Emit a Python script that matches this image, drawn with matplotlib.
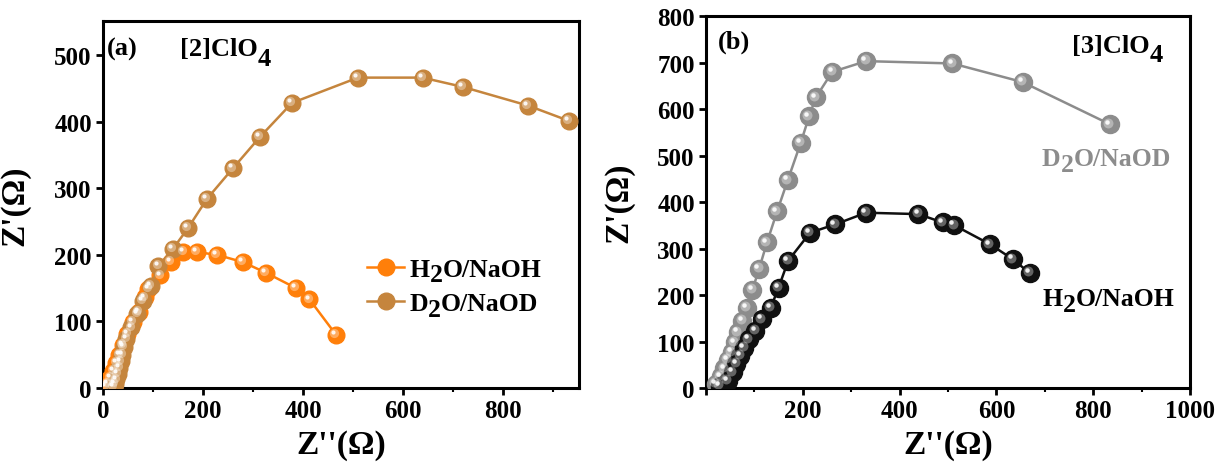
import matplotlib
matplotlib.use("Agg")
import matplotlib.pyplot as plt
from matplotlib.transforms import ScaledTranslation

plt.rcParams['font.family'] = ['Liberation Serif', 'DejaVu Serif']
plt.rcParams['font.weight'] = 'bold'

# panel (a) [2]ClO4
a_h2o_x = [6, 10, 15, 21, 27, 33, 40, 49, 60, 72, 84, 91, 115, 136, 161, 188, 228, 280, 326, 386, 413, 466]
a_h2o_y = [2, 7, 15, 26, 38, 50, 65, 81, 99, 114, 136, 149, 169, 189, 204, 204, 200, 189, 173, 150, 133, 80]
a_d2o_x = [22, 24, 27, 30, 33, 36, 39, 42, 47, 57, 69, 80, 96, 111, 140, 170, 208, 260, 314, 378, 510, 639, 720, 850, 932]
a_d2o_y = [2, 6, 13, 21, 30, 40, 50, 62, 74, 91, 111, 131, 153, 183, 209, 240, 284, 330, 377, 428, 466, 466, 452, 424, 401]

# panel (b) [3]ClO4
b_h2o_x = [29, 45, 55, 63, 71, 79, 88, 102, 116, 134, 150, 170, 215, 267, 331, 439, 489, 513, 587, 634, 669]
b_h2o_y = [5, 16, 34, 52, 69, 87, 105, 123, 148, 173, 216, 274, 334, 352, 377, 374, 356, 350, 309, 277, 247]
b_d2o_x = [21, 30, 38, 45, 53, 60, 66, 75, 85, 96, 110, 126, 147, 169, 196, 213, 227, 261, 331, 509, 654, 835]
b_d2o_y = [9, 25, 42, 60, 77, 98, 120, 145, 173, 211, 257, 313, 380, 447, 528, 584, 625, 680, 703, 698, 658, 567]

orange = '#ff7f0a'
brown = '#c5853d'
grey = '#8c8c8c'
black = '#101010'

fig = plt.figure(figsize=(12.17, 4.64), dpi=100)
ax1 = fig.add_axes([0.0846, 0.1616, 0.3912, 0.791])
ax2 = fig.add_axes([0.5801, 0.1616, 0.3977, 0.8017])


def sphere(ax, x, y, color, ms, label=None):
    base, = ax.plot(x, y, '-o', color=color, lw=1.8, ms=ms, mec=color,
                    label=label, zorder=3)
    off1 = ax.transData + ScaledTranslation(-1.2 / 72, 1.2 / 72, fig.dpi_scale_trans)
    off2 = ax.transData + ScaledTranslation(-2.0 / 72, 2.0 / 72, fig.dpi_scale_trans)
    ax.plot(x, y, 'o', color='white', alpha=0.35, ms=ms * 0.55, mew=0,
            transform=off1, zorder=4)
    ax.plot(x, y, 'o', color='white', alpha=0.9, ms=ms * 0.25, mew=0,
            transform=off2, zorder=5)
    return base


def chain(ax, first, pieces, **kw):
    # write the next pieces after a text, each one moved up/down a bit
    prev = first
    for s, dy in pieces:
        prev = ax.annotate(s, xy=(1, 0), xycoords=prev, xytext=(0, dy),
                           textcoords='offset points', va='bottom', ha='left',
                           zorder=6, annotation_clip=False, **kw)
    return prev


for ax in (ax1, ax2):
    for s in ax.spines.values():
        s.set_linewidth(2.2)
    ax.tick_params(direction='out', width=2, length=5, labelsize=18, pad=3)
    ax.tick_params(which='minor', direction='out', width=1.5, length=3)
    ax.set_ylabel("Z'(Ω)", fontsize=24, fontweight='bold')
    ax.set_xlabel("Z''(Ω)", fontsize=24, fontweight='bold')

# (a)
sphere(ax1, a_h2o_x, a_h2o_y, orange, 12, 'H')
sphere(ax1, a_d2o_x, a_d2o_y, brown, 12, 'D')
ax1.set_xlim(0, 952)
ax1.set_ylim(0, 551)
ax1.set_xticks([0, 200, 400, 600, 800])
ax1.set_xticks(range(100, 1000, 200), minor=True)
ax1.set_yticks([0, 100, 200, 300, 400, 500])
ax1.xaxis.set_label_coords(0.5, -0.112)
ax1.yaxis.set_label_coords(-0.153, 0.5)
leg = ax1.legend(loc='center left', bbox_to_anchor=(0.555, 0.277), frameon=False,
                 fontsize=18.5, handlelength=1.45, handletextpad=0.2,
                 labelspacing=0.45, borderpad=0, borderaxespad=0)
t_h, t_d = leg.get_texts()
chain(ax1, t_h, [('2', -4), ('O/NaOH', 4)], fontsize=18.5)
chain(ax1, t_d, [('2', -4), ('O/NaOD', 4)], fontsize=18.5)
ax1.text(0.009, 0.924, '(a)', transform=ax1.transAxes, fontsize=19, va='center')
t = ax1.text(0.162, 0.925, '[2]ClO', transform=ax1.transAxes, fontsize=19, va='center')
chain(ax1, t, [('4', -7)], fontsize=19)

# (b)
sphere(ax2, b_d2o_x, b_d2o_y, grey, 13)
sphere(ax2, b_h2o_x, b_h2o_y, black, 13)
ax2.set_xlim(0, 1000)
ax2.set_ylim(0, 800)
ax2.set_xticks([0, 200, 400, 600, 800, 1000])
ax2.set_xticklabels(['', '200', '400', '600', '800', '1000'])
ax2.set_xticks(range(100, 1000, 200), minor=True)
ax2.set_yticks(range(0, 801, 100))
ax2.xaxis.set_label_coords(0.5, -0.11)
ax2.yaxis.set_label_coords(-0.147, 0.5)
ax2.text(0.025, 0.933, '(b)', transform=ax2.transAxes, fontsize=19, va='center')
t = ax2.text(0.756, 0.922, '[3]ClO', transform=ax2.transAxes, fontsize=19, va='center')
chain(ax2, t, [('4', -7)], fontsize=19)
t = ax2.text(0.694, 0.616, 'D', transform=ax2.transAxes, fontsize=18.5,
             va='center', color=grey)
chain(ax2, t, [('2', -4), ('O/NaOD', 4)], fontsize=18.5, color=grey)
t = ax2.text(0.696, 0.24, 'H', transform=ax2.transAxes, fontsize=18.5,
             va='center', color='black')
chain(ax2, t, [('2', -4), ('O/NaOH', 4)], fontsize=18.5, color='black')

fig.savefig('out.png', dpi=100)
